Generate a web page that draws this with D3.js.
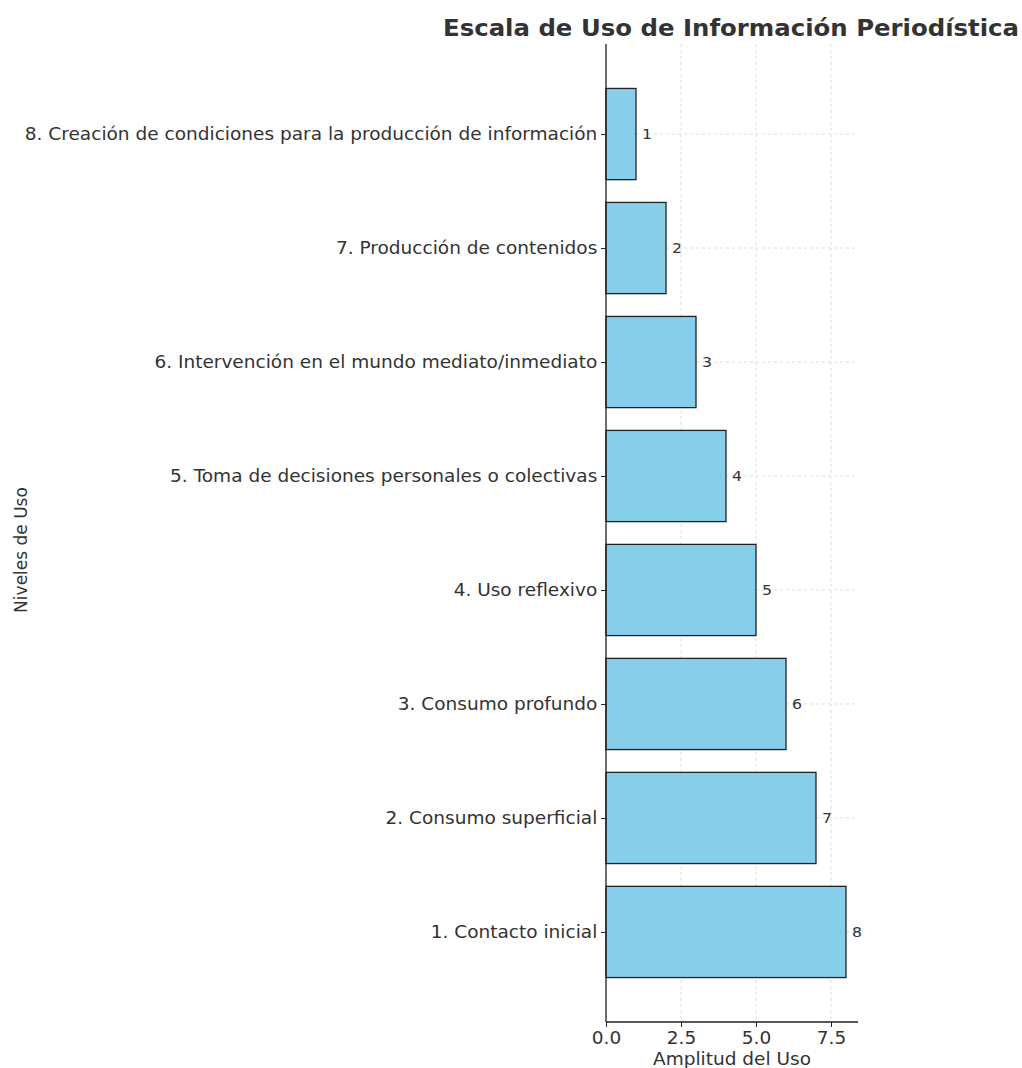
<!DOCTYPE html>
<html><head><meta charset="utf-8">
<script src="https://cdn.jsdelivr.net/npm/d3@7"></script>
<style>body{margin:0;background:#fff}svg{display:block}text{font-family:"DejaVu Sans",sans-serif}</style>
</head><body>
<svg id="c" width="1022" height="1068"></svg>
<script>
const categories = [
  "1. Contacto inicial",
  "2. Consumo superficial",
  "3. Consumo profundo",
  "4. Uso reflexivo",
  "5. Toma de decisiones personales o colectivas",
  "6. Intervención en el mundo mediato/inmediato",
  "7. Producción de contenidos",
  "8. Creación de condiciones para la producción de información"
];
const values = [8, 7, 6, 5, 4, 3, 2, 1];
const xTicks = [0, 2.5, 5, 7.5];
const title = "Escala de Uso de Información Periodística";
const xLabel = "Amplitud del Uso";
const yLabel = "Niveles de Uso";

const svg = d3.select("#c");
const L = 606, R = 858, T = 44, B = 1022;
const SX = 1.09; // horizontal stretch of text seen in the reference
const x = d3.scaleLinear().domain([0, 8.4]).range([L, R]);
const y = d3.scaleLinear().domain([-0.79, 7.79]).range([B, T]);
const bh = 0.8;
const ink = "#333";

// grid
const g = svg.append("g");
g.selectAll(".vg").data(xTicks).join("line")
  .attr("x1", d => x(d)).attr("x2", d => x(d)).attr("y1", T).attr("y2", B)
  .attr("stroke", "#d4d4d4").attr("stroke-dasharray", "3,3").attr("stroke-width", 0.8);
g.selectAll(".hg").data(categories).join("line")
  .attr("x1", L).attr("x2", R).attr("y1", (d, i) => y(i)).attr("y2", (d, i) => y(i))
  .attr("stroke", "#d4d4d4").attr("stroke-dasharray", "3,3").attr("stroke-width", 0.8);

// bars
svg.append("g").selectAll("rect").data(values).join("rect")
  .attr("x", x(0)).attr("y", (d, i) => y(i + bh / 2))
  .attr("width", d => x(d) - x(0)).attr("height", y(0) - y(bh))
  .attr("fill", "#87ceeb").attr("stroke", "#222").attr("stroke-width", 1.3);

// value labels
svg.append("g").selectAll("text").data(values).join("text")
  .attr("transform", (d, i) => `translate(${x(d) + 6},${y(i)}) scale(${SX},1)`)
  .attr("dy", "0.35em")
  .attr("font-size", 14.5).attr("fill", ink).text(d => d);

// axes
const xAxis = d3.axisBottom(x).tickValues(xTicks).tickFormat(d3.format(".1f")).tickSize(5).tickPadding(5);
const xa = svg.append("g").attr("transform", `translate(0,${B})`).call(xAxis);
xa.select(".domain").attr("stroke", "#222").attr("stroke-width", 1.3).attr("d", `M${L},0H${R}`);
xa.selectAll(".tick line").attr("stroke", "#222");
xa.selectAll(".tick text").attr("font-size", 17).attr("fill", ink).attr("font-family", "DejaVu Sans")
  .attr("transform", `scale(${SX},1)`);

const yAxis = d3.axisLeft(y).tickValues(d3.range(categories.length)).tickFormat(i => categories[i]).tickSize(5).tickPadding(3);
const ya = svg.append("g").attr("transform", `translate(${L},0)`).call(yAxis);
ya.select(".domain").attr("stroke", "#222").attr("stroke-width", 1.3).attr("d", `M0,${T}V${B}`);
ya.selectAll(".tick line").attr("stroke", "#222");
ya.selectAll(".tick text").attr("font-size", 17).attr("fill", ink).attr("font-family", "DejaVu Sans")
  .attr("transform", `scale(${SX},1)`);

// labels
svg.append("text").attr("transform", `translate(731,36) scale(1.07,1)`).attr("text-anchor", "middle")
  .attr("font-size", 22.8).attr("font-weight", "bold").attr("fill", ink).text(title);
svg.append("text").attr("transform", `translate(732,1065) scale(${SX},1)`).attr("text-anchor", "middle")
  .attr("font-size", 17).attr("fill", ink).text(xLabel);
svg.append("text").attr("transform", "translate(27,550) rotate(-90)").attr("text-anchor", "middle")
  .attr("font-size", 17).attr("fill", ink).text(yLabel);
</script>
</body></html>
